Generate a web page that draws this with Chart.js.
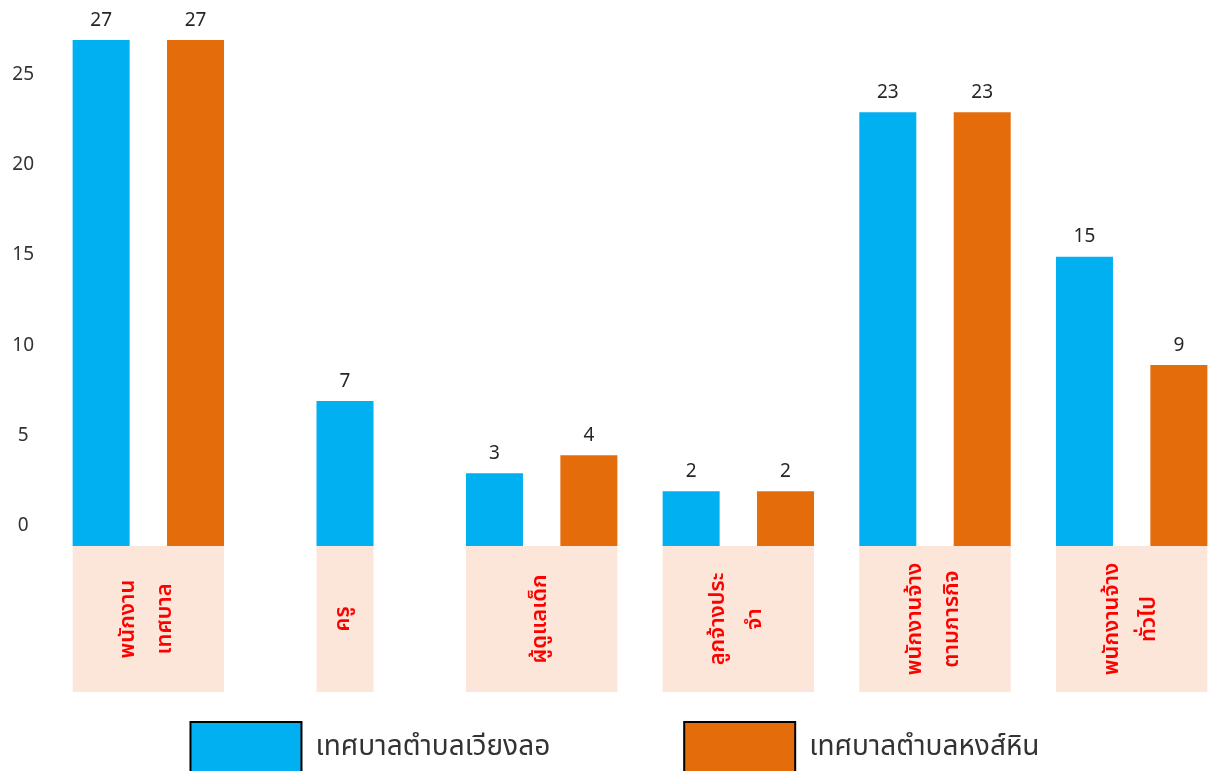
<!DOCTYPE html>
<html>
<head>
<meta charset="utf-8">
<script src="https://cdn.jsdelivr.net/npm/chart.js@4.4.1/dist/chart.umd.min.js"></script>
<style>
  html, body { margin: 0; padding: 0; background: #ffffff; overflow: hidden; }
  #wrap { position: relative; width: 1230px; height: 787px; }
</style>
</head>
<body>
<div id="wrap"><canvas id="chart"></canvas></div>
<script>
// Staff categories (each entry is split into the lines drawn in its label box)
const categories = [
  ["พนักงาน", "เทศบาล"],
  ["ครู"],
  ["ผู้ดูแลเด็ก"],
  ["ลูกจ้างประ", "จำ"],
  ["พนักงานจ้าง", "ตามภารกิจ"],
  ["พนักงานจ้าง", "ทั่วไป"]
];
const seriesNames = ["เทศบาลตำบลเวียงลอ", "เทศบาลตำบลหงส์หิน"];
const wiangLo = [27, 7, 3, 2, 23, 15];
const hongHin = [27, null, 4, 2, 23, 9];
const yTicks = [0, 5, 10, 15, 20, 25];

const FONT = "'Noto Sans Thai', 'Noto Sans', 'Open Sans', sans-serif";
const BLUE = '#00B0F0';
const ORANGE = '#E46C0A';
const BOX_FILL = '#FBE6D9';
const LABEL_RED = '#FF0000';
const BOX_HEIGHT = 146;

// Peach boxes under each group of bars, with the category written vertically
const categoryBoxes = {
  id: 'categoryBoxes',
  afterDatasetsDraw(chart) {
    const { ctx, chartArea } = chart;
    const metas = chart.data.datasets.map((_, i) => chart.getDatasetMeta(i));
    chart.data.labels.forEach((lines, i) => {
      let left = Infinity, right = -Infinity;
      metas.forEach((meta, di) => {
        if (chart.data.datasets[di].data[i] == null) return;
        const bar = meta.data[i];
        left = Math.min(left, bar.x - bar.width / 2);
        right = Math.max(right, bar.x + bar.width / 2);
      });
      if (!isFinite(left)) return;
      const top = chartArea.bottom;
      ctx.save();
      ctx.fillStyle = BOX_FILL;
      ctx.fillRect(left, top, right - left, BOX_HEIGHT);
      ctx.translate((left + right) / 2, top + BOX_HEIGHT / 2);
      ctx.rotate(-Math.PI / 2);
      ctx.fillStyle = LABEL_RED;
      ctx.font = "600 22px " + FONT;
      ctx.textAlign = 'center';
      ctx.textBaseline = 'middle';
      const lh = 37;
      lines.forEach((t, j) => {
        ctx.fillText(t, 0, (j - (lines.length - 1) / 2) * lh);
      });
      ctx.restore();
    });
  }
};

// Value written above every bar
const valueLabels = {
  id: 'valueLabels',
  afterDatasetsDraw(chart) {
    const { ctx } = chart;
    ctx.save();
    ctx.font = "19px " + FONT;
    ctx.fillStyle = '#262626';
    ctx.textAlign = 'center';
    ctx.textBaseline = 'middle';
    chart.data.datasets.forEach((ds, di) => {
      const meta = chart.getDatasetMeta(di);
      meta.data.forEach((bar, i) => {
        const v = ds.data[i];
        if (v == null) return;
        ctx.fillText(String(v), bar.x, bar.y - 18);
      });
    });
    ctx.restore();
  }
};

new Chart(document.getElementById('chart'), {
  type: 'bar',
  data: {
    labels: categories,
    datasets: [
      { label: seriesNames[0], data: wiangLo, backgroundColor: BLUE },
      { label: seriesNames[1], data: hongHin, backgroundColor: ORANGE }
    ]
  },
  options: {
    responsive: true,
    maintainAspectRatio: false,
    animation: false,
    layout: { padding: { top: 22, left: 0, right: 0, bottom: 0 } },
    datasets: {
      bar: {
        categoryPercentage: 0.96,
        barPercentage: 0.61,
        maxBarThickness: 57,
        skipNull: true,
        base: -1.03
      }
    },
    scales: {
      x: {
        grid: { display: false },
        border: { display: false },
        ticks: { display: false },
        afterFit: s => { s.height = 42; }
      },
      y: {
        min: -1.03,
        max: 28,
        grid: { display: false },
        border: { display: false },
        afterBuildTicks: s => { s.ticks = yTicks.map(v => ({ value: v })); },
        afterFit: s => { s.width = 50; },
        ticks: {
          crossAlign: 'center',
          padding: 8,
          color: '#333333',
          font: { size: 19, family: FONT }
        }
      }
    },
    plugins: {
      tooltip: { enabled: false },
      legend: {
        position: 'bottom',
        labels: {
          boxWidth: 111,
          boxHeight: 55,
          padding: 134,
          color: '#333333',
          font: { size: 28, family: FONT },
          generateLabels: chart =>
            Chart.defaults.plugins.legend.labels.generateLabels(chart).map(item =>
              Object.assign(item, { strokeStyle: '#000000', lineWidth: 2 }))
        }
      }
    }
  },
  plugins: [categoryBoxes, valueLabels]
});
</script>
</body>
</html>
